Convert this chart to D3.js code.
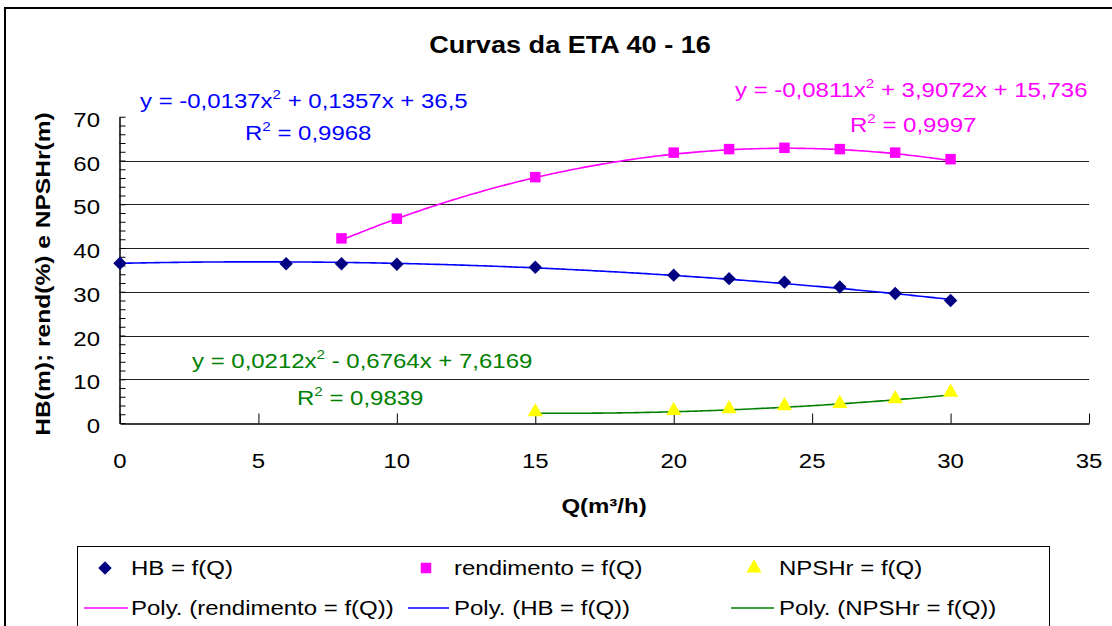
<!DOCTYPE html>
<html lang="pt">
<head>
<meta charset="utf-8">
<title>Curvas da ETA 40 - 16</title>
<script src="https://cdn.jsdelivr.net/npm/d3@7"></script>
<style>
body { margin:0; background:#fff; }
text { font-family:"Liberation Sans", Arial, sans-serif; }
</style>
</head>
<body>
<div id="chart"></div>
<script>
// pontos medidos
var qHB   = [0, 6, 8, 10, 15, 20, 22, 24, 26, 28, 30];
var hb    = [36.5, 36.4, 36.4, 36.3, 35.6, 33.8, 33.0, 32.2, 31.1, 29.6, 28.0];
var qRend = [8, 10, 15, 20, 22, 24, 26, 28, 30];
var rend  = [42.2, 46.7, 56.2, 61.8, 62.6, 62.9, 62.6, 61.8, 60.3];
var qNPSH = [15, 20, 22, 24, 26, 28, 30];
var npsh  = [2.3, 2.6, 3.0, 3.7, 4.2, 5.3, 6.8];

// linhas de tendencia (c0, c1, c2) como mostradas no grafico
var fitHB   = [36.5, 0.1357, -0.0137];
var fitRend = [15.736, 3.9072, -0.0811];
var fitNPSH = [7.6169, -0.6764, 0.0212];
var eqHB   = ["y = -0,0137x", " + 0,1357x + 36,5"];
var eqRend = ["y = -0,0811x", " + 3,9072x + 15,736"];
var eqNPSH = ["y = 0,0212x", " - 0,6764x + 7,6169"];
var r2HB = "0,9968", r2Rend = "0,9997", r2NPSH = "0,9839";

var xTicks = [0, 5, 10, 15, 20, 25, 30, 35];
var yTicks = [0, 10, 20, 30, 40, 50, 60, 70];

var width = 1112, height = 626;
var SX = 1.17;   // texto esticado na horizontal

var svg = d3.select("#chart").append("svg")
    .attr("width", width)
    .attr("height", height);

var x = d3.scaleLinear().domain([0, 35]).range([120, 1089]);
var y = d3.scaleLinear().domain([0, 70]).range([423, 116.75]);

// moldura externa
svg.append("rect")
    .attr("x", 5).attr("y", 8)
    .attr("width", 1130).attr("height", 640)
    .style("fill", "none").style("stroke", "#000").style("stroke-width", 2);

function addText(px, py, str, size, opts) {
    opts = opts || {};
    return svg.append("text")
        .attr("transform", "translate(" + px + "," + py + ")" + (opts.rot ? " rotate(-90)" : "") + " scale(" + (opts.sx || SX) + ",1)")
        .attr("text-anchor", opts.anchor || "start")
        .style("font-size", size + "px")
        .style("font-weight", opts.bold ? "bold" : "normal")
        .style("fill", opts.fill || "#000")
        .text(str);
}

function addEq(px, py, parts, color) {
    var t = addText(px, py, null, 20.5, {fill: color});
    t.append("tspan").text(parts[0]);
    t.append("tspan").attr("dy", -9).style("font-size", "13px").text("2");
    t.append("tspan").attr("dy", 9).text(parts[1]);
}
function addR2(px, py, val, color) {
    var t = addText(px, py, null, 20.5, {fill: color});
    t.append("tspan").text("R");
    t.append("tspan").attr("dy", -9).style("font-size", "13px").text("2");
    t.append("tspan").attr("dy", 9).text(" = " + val);
}

// grade
svg.selectAll("line.grid")
    .data(yTicks.filter(function(d) { return d > 0 && d < 70; }))
    .enter().append("line")
    .attr("class", "grid")
    .attr("x1", x(0)).attr("x2", x(35))
    .attr("y1", function(d) { return Math.round(y(d)) + 0.5; })
    .attr("y2", function(d) { return Math.round(y(d)) + 0.5; })
    .style("stroke", "#222").style("stroke-width", 1);

// eixos
var gx = svg.append("g").attr("transform", "translate(0," + (Math.round(y(0)) + 0.5) + ")");
gx.call(d3.axisBottom(x).ticks(35).tickSizeInner(-5).tickSizeOuter(0).tickFormat(""));
gx.call(d3.axisBottom(x).tickValues(xTicks).tickSizeInner(-10).tickSizeOuter(0).tickFormat(""));
gx.selectAll(".domain").style("stroke", "#000").style("stroke-width", 1.5);
gx.selectAll(".tick line").style("stroke", "#000");

var gy = svg.append("g").attr("transform", "translate(" + (Math.round(x(0)) - 0.5) + ",0)");
gy.call(d3.axisLeft(y).ticks(35).tickSizeInner(-6).tickSizeOuter(0).tickFormat(""));
gy.selectAll(".domain").style("stroke", "#000").style("stroke-width", 1.5);
gy.selectAll(".tick line").style("stroke", "#000");

xTicks.forEach(function(d) { addText(x(d), 468, d, 20.5, {anchor: "middle"}); });
yTicks.forEach(function(d) { addText(100, y(d) + 10, d, 20.5, {anchor: "end"}); });

// titulos
addText(570, 53, "Curvas da ETA 40 - 16", 24, {bold: true, anchor: "middle", sx: 1.13});
addText(604, 513, "Q(m³/h)", 20.5, {bold: true, anchor: "middle"});
addText(50, 274, "HB(m); rend(%) e NPSHr(m)", 21, {bold: true, anchor: "middle", rot: true});

// linhas de tendencia
function poly(c) { return function(q) { return c[0] + c[1] * q + c[2] * q * q; }; }
function trend(c, q0, q1, color) {
    var f = poly(c);
    var pts = d3.range(q0, q1 + 0.001, 0.1).map(function(q) { return [x(q), y(f(q))]; });
    svg.append("path")
        .attr("d", d3.line()(pts))
        .style("fill", "none").style("stroke", color).style("stroke-width", 1.6);
}
trend(fitRend, d3.min(qRend), d3.max(qRend), "#ff00ff");
trend(fitHB, d3.min(qHB), d3.max(qHB), "#0000ff");
trend(fitNPSH, d3.min(qNPSH), d3.max(qNPSH), "#008000");

// marcadores
var diamond = d3.symbol().type(d3.symbolDiamond2).size(115);
var square = d3.symbol().type(d3.symbolSquare).size(110);
var triangle = d3.symbol().type(d3.symbolTriangle).size(100);

svg.selectAll("path.hb").data(qHB).enter().append("path")
    .attr("class", "hb")
    .attr("d", diamond)
    .attr("transform", function(d, i) { return "translate(" + x(d) + "," + y(hb[i]) + ")"; })
    .style("fill", "#000080");
svg.selectAll("path.rend").data(qRend).enter().append("path")
    .attr("class", "rend")
    .attr("d", square)
    .attr("transform", function(d, i) { return "translate(" + x(d) + "," + y(rend[i]) + ")"; })
    .style("fill", "#ff00ff");
svg.selectAll("path.npsh").data(qNPSH).enter().append("path")
    .attr("class", "npsh")
    .attr("d", triangle)
    .attr("transform", function(d, i) { return "translate(" + x(d) + "," + (y(npsh[i]) - 1) + ")"; })
    .style("fill", "#ffff00");

// equacoes
addEq(140, 108, eqHB, "#0000ff");
addR2(245, 140, r2HB, "#0000ff");
addEq(735, 97, eqRend, "#ff00ff");
addR2(850, 132, r2Rend, "#ff00ff");
addEq(192, 368, eqNPSH, "#008000");
addR2(297, 405, r2NPSH, "#008000");

// legenda
svg.append("rect")
    .attr("x", 77.5).attr("y", 546.5)
    .attr("width", 972).attr("height", 100)
    .style("fill", "#fff").style("stroke", "#000").style("stroke-width", 1);

var legMarks = [
    {sym: diamond, fill: "#000080", mx: 105, tx: 131, label: "HB = f(Q)"},
    {sym: square, fill: "#ff00ff", mx: 426, tx: 454, label: "rendimento = f(Q)"},
    {sym: triangle, fill: "#ffff00", mx: 754, tx: 779, label: "NPSHr = f(Q)"}
];
var legLines = [
    {color: "#ff00ff", x1: 84, x2: 128, tx: 131, label: "Poly. (rendimento = f(Q))"},
    {color: "#0000ff", x1: 408, x2: 449, tx: 454, label: "Poly. (HB = f(Q))"},
    {color: "#008000", x1: 731, x2: 774, tx: 779, label: "Poly. (NPSHr = f(Q))"}
];
legMarks.forEach(function(d) {
    svg.append("path").attr("d", d.sym).attr("transform", "translate(" + d.mx + ",568)").style("fill", d.fill);
    addText(d.tx, 575, d.label, 20.5);
});
legLines.forEach(function(d) {
    svg.append("line").attr("x1", d.x1).attr("x2", d.x2).attr("y1", 608).attr("y2", 608)
        .style("stroke", d.color).style("stroke-width", 1.6);
    addText(d.tx, 615, d.label, 20.5);
});
</script>
</body>
</html>
